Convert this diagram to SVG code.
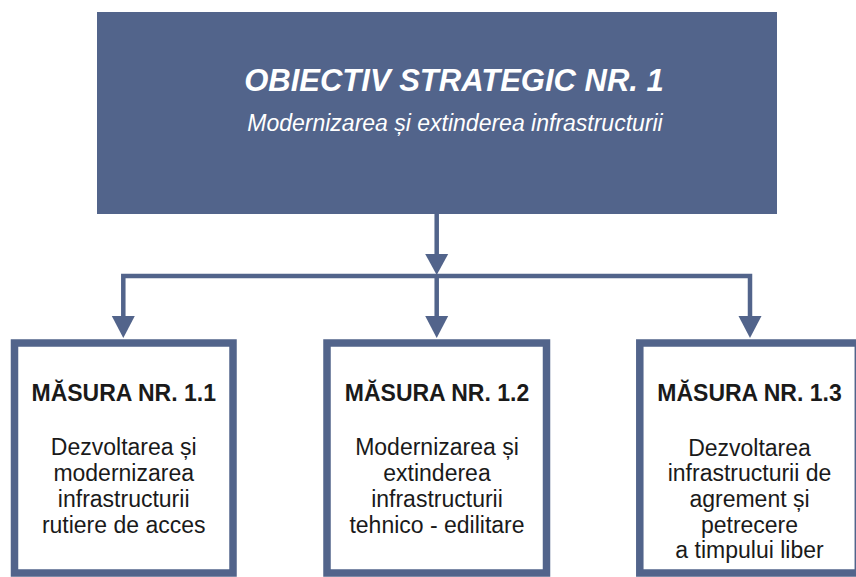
<svg xmlns="http://www.w3.org/2000/svg" width="856" height="577" viewBox="0 0 856 577">
<style>
.bg{fill:#ffffff}
.top{fill:#52648b}
.box{fill:#ffffff;stroke:#52648b;stroke-width:7.5}
.ln{stroke:#52648b;stroke-width:4.5;fill:none}
.ah{fill:#52648b}
.t1{font-family:"Liberation Sans",Arial,sans-serif;font-weight:bold;font-style:italic;font-size:31px;fill:#ffffff;text-anchor:middle}
.t2{font-family:"Liberation Sans",Arial,sans-serif;font-style:italic;font-size:23px;fill:#ffffff;text-anchor:middle}
.h{font-family:"Liberation Sans",Arial,sans-serif;font-weight:bold;font-size:23px;fill:#1a1a1a;text-anchor:middle}
.b{font-family:"Liberation Sans",Arial,sans-serif;font-size:23px;fill:#1a1a1a;text-anchor:middle}
</style>
<rect class="bg" x="0" y="0" width="856" height="577"/>
<g id="connectors">
<line class="ln" x1="436.7" y1="213" x2="436.7" y2="256"/>
<polygon class="ah" points="425.2,254 448.2,254 436.7,275"/>
<polyline class="ln" points="123.3,318 123.3,276 750,276 750,318"/>
<line class="ln" x1="436.7" y1="276" x2="436.7" y2="318"/>
<polygon class="ah" points="111.8,316 134.8,316 123.3,338"/>
<polygon class="ah" points="425.2,316 448.2,316 436.7,338"/>
<polygon class="ah" points="738.5,316 761.5,316 750,338"/>
</g>
<g id="obiectiv">
<rect class="top" x="97" y="12" width="680" height="202"/>
<text class="t1" x="454" y="91">OBIECTIV STRATEGIC NR. 1</text>
<text class="t2" x="455" y="131">Modernizarea și extinderea infrastructurii</text>
</g>
<g id="masura11">
<rect class="box" x="14.5" y="343" width="218.5" height="230"/>
<text class="h" x="123.7" y="401">MĂSURA NR. 1.1</text>
<text class="b" x="123.7" y="455">Dezvoltarea și</text>
<text class="b" x="123.7" y="481">modernizarea</text>
<text class="b" x="123.7" y="507">infrastructurii</text>
<text class="b" x="123.7" y="532.5">rutiere de acces</text>
</g>
<g id="masura12">
<rect class="box" x="327" y="343" width="219.5" height="230"/>
<text class="h" x="437" y="401">MĂSURA NR. 1.2</text>
<text class="b" x="437" y="455">Modernizarea și</text>
<text class="b" x="437" y="481">extinderea</text>
<text class="b" x="437" y="507">infrastructurii</text>
<text class="b" x="437" y="532.5">tehnico - edilitare</text>
</g>
<g id="masura13">
<rect class="box" x="639.8" y="343" width="218.5" height="230"/>
<text class="h" x="749.5" y="401">MĂSURA NR. 1.3</text>
<text class="b" x="749.5" y="455.5">Dezvoltarea</text>
<text class="b" x="749.5" y="481">infrastructurii de</text>
<text class="b" x="749.5" y="507">agrement și</text>
<text class="b" x="749.5" y="532.5">petrecere</text>
<text class="b" x="749.5" y="558">a timpului liber</text>
</g>
</svg>
